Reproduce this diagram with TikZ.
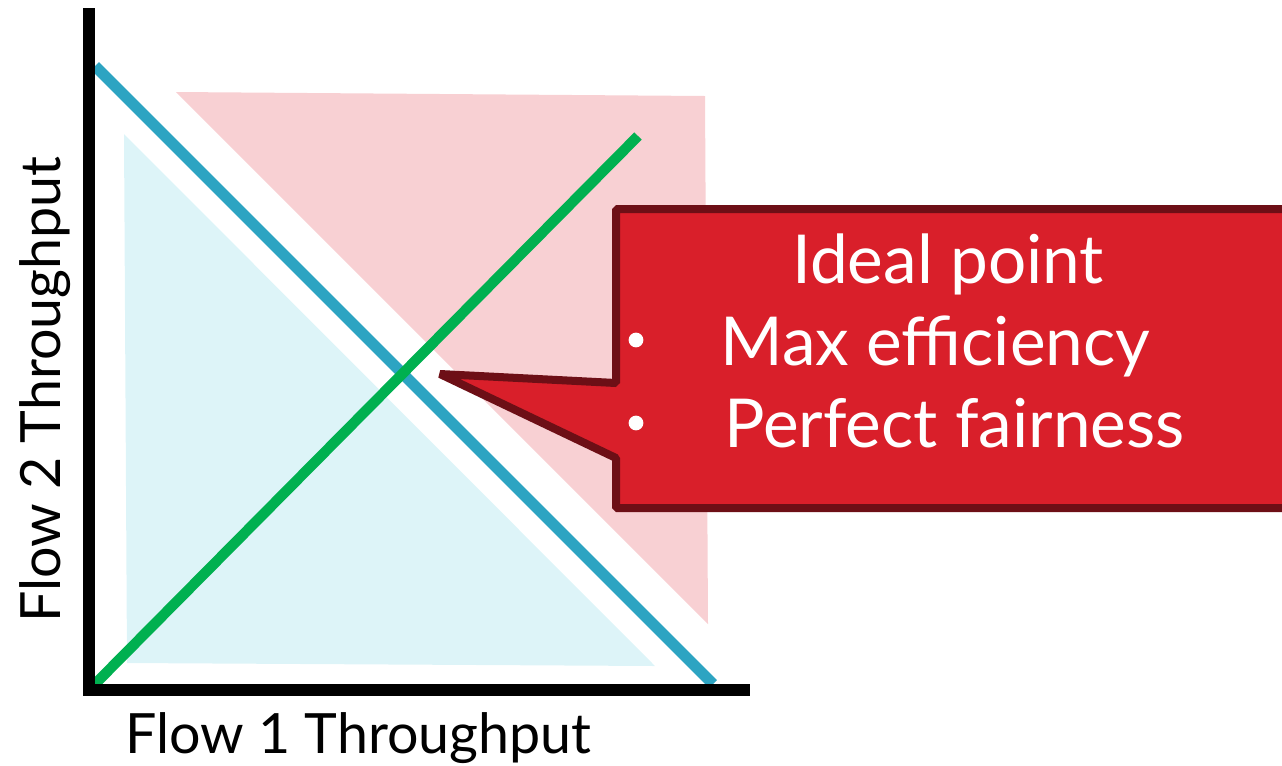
\documentclass[tikz,border=0pt]{standalone}
\usepackage{fontspec}
\setmainfont{Lato}
\definecolor{flowblue}{RGB}{45,164,194}
\definecolor{flowgreen}{RGB}{0,176,80}
\definecolor{overpink}{RGB}{248,208,211}
\definecolor{underblue}{RGB}{221,244,248}
\definecolor{calloutred}{RGB}{217,31,42}
\definecolor{calloutdark}{RGB}{109,15,22}
\begin{document}
\begin{tikzpicture}[x=0.025cm, y=-0.025cm,
		boxtext/.style={text=white, inner sep=0, font=\fontsize{48}{56}\selectfont},
		axistext/.style={inner sep=0, font=\fontsize{39.5}{46}\selectfont}]
		\useasboundingbox (0,0) rectangle (1282,765);
		\clip (0,0) rectangle (1282,765);
		\fill[overpink] (176,92) -- (705,96) -- (708,624) -- cycle;
		\fill[underblue] (124,134) -- (127,663) -- (655,666) -- cycle;
		\coordinate (linkcap) at (95,66);
		\coordinate (linkfull) at (713,684);
		\coordinate (origin) at (95,684);
		\coordinate (fairend) at (638,136);
		\draw[line width=7.8pt, color=flowblue] (linkcap) -- (linkfull);
		\draw[line width=7.4pt, color=flowgreen] (origin) -- (fairend);
		\draw[line width=8.5pt] (89,8) -- (89,690) -- (750,690);
		\draw[line width=5.7pt, draw=calloutdark, fill=calloutred, line join=bevel]
			(616,209) -- (1295,209) -- (1295,508) -- (616,508) -- (616,458) -- (440,374) -- (616,383) -- cycle;
		\node[boxtext, anchor=base] (ideal) at (948,283) {Ideal point};
		\node[boxtext, anchor=base west] (eff) at (720,365) {Max efficiency};
		\node[boxtext, anchor=base west] (fair) at (724,447) {Perfect fairness};
		\foreach \y/\name in {340/effdot, 423/fairdot}
			\node[circle, fill=white, inner sep=0, minimum size=10.5pt] (\name) at (636,\y) {};
		\node[axistext, anchor=base west] (xlabel) at (125,753) {Flow 1 Throughput};
		\node[axistext, anchor=base west, rotate=90] (ylabel) at (60,623) {Flow 2 Throughput};
	\end{tikzpicture}
\end{document}
